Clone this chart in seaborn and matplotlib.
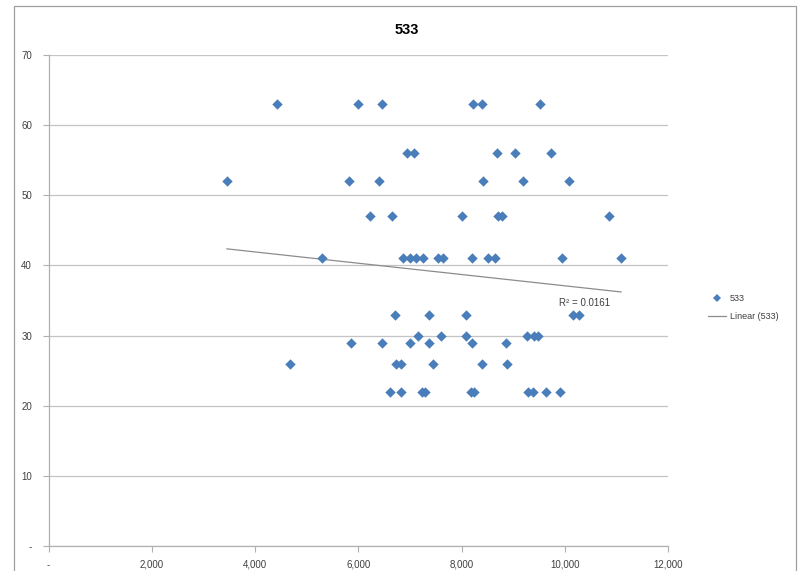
import numpy as np
import pandas as pd
import matplotlib
matplotlib.use("Agg")
import matplotlib.pyplot as plt
from matplotlib.lines import Line2D
from matplotlib.patches import Rectangle
from matplotlib.ticker import FuncFormatter
import seaborn as sns

# Observations grouped by their score level
score_levels = [63, 56, 52, 47, 41, 33, 30, 29, 26, 22]
x_at_63 = [4420, 5990, 6460, 8230, 8390, 9525]
x_at_56 = [6940, 7070, 8680, 9040, 9730]
x_at_52 = [3450, 5820, 6400, 8425, 9200, 10085]
x_at_47 = [6225, 6645, 8005, 8715, 8790, 10850]
x_at_41 = [5300, 6860, 7000, 7120, 7250, 7540, 7645, 8200, 8520, 8640, 9950, 11095]
x_at_33 = [6705, 7365, 8090, 10150, 10280]
x_at_30 = [7150, 7610, 8085, 9260, 9410, 9490]
x_at_29 = [5850, 6460, 7010, 7375, 8200, 8855]
x_at_26 = [4680, 6725, 6820, 7445, 8405, 8875]
x_at_22 = [6610, 6835, 7230, 7285, 8185, 8240, 9295, 9385, 9635, 9905]

series_name = "533"
r_squared_label = "R² = 0.0161"
x_ticks = [0, 2000, 4000, 6000, 8000, 10000, 12000]
y_ticks = [0, 10, 20, 30, 40, 50, 60, 70]

groups = [x_at_63, x_at_56, x_at_52, x_at_47, x_at_41,
          x_at_33, x_at_30, x_at_29, x_at_26, x_at_22]
rows = []
for level, xs in zip(score_levels, groups):
    for xv in xs:
        rows.append((xv, level))
df = pd.DataFrame(rows, columns=["x", "y"])

sns.set_theme(style="white")
plt.rcParams["font.family"] = ["Liberation Sans", "DejaVu Sans"]

fig = plt.figure(figsize=(8.0, 5.71), dpi=100)
ax = fig.add_axes([0.0608, 0.0438, 0.7742, 0.8599])

marker_color = "#4A7EBB"
grid_color = "#C4C4C4"
axis_color = "#B0B0B0"
trend_color = "#8C8C8C"

sns.scatterplot(data=df, x="x", y="y", ax=ax, marker="D", s=28,
                color=marker_color, edgecolor=marker_color, linewidth=0,
                zorder=3, legend=False)
sns.regplot(data=df, x="x", y="y", ax=ax, scatter=False, ci=None,
            truncate=True, line_kws=dict(color=trend_color, lw=0.9, zorder=2))

ax.set_xlim(0, 12000)
ax.set_ylim(0, 70)
ax.set_xticks(x_ticks)
ax.set_yticks(y_ticks)


def thousands(v, _pos):
    return "-" if v == 0 else f"{int(v):,}"


ax.xaxis.set_major_formatter(FuncFormatter(thousands))
ax.yaxis.set_major_formatter(FuncFormatter(lambda v, p: "-" if v == 0 else f"{int(v)}"))
ax.set_xlabel("")
ax.set_ylabel("")

ax.yaxis.grid(True, color=grid_color, lw=0.9)
ax.xaxis.grid(False)
ax.set_axisbelow(True)
for side in ["top", "right"]:
    ax.spines[side].set_visible(False)
for side in ["left", "bottom"]:
    ax.spines[side].set_color(axis_color)
    ax.spines[side].set_linewidth(0.9)

ax.tick_params(axis="both", which="major", direction="out", length=4,
               width=0.8, color=axis_color, labelsize=7, labelcolor="#404040",
               left=True, bottom=True)
ax.tick_params(axis="y", pad=8)
ax.tick_params(axis="x", pad=6)

ax.text(10390, 34.6, r_squared_label, ha="center", va="center",
        fontsize=7, color="#404040")

fig.text(407 / 800, 1 - 30 / 571, series_name, ha="center", va="center",
         fontsize=10.5, fontweight="bold", color="#000000")

handles = [
    Line2D([], [], marker="D", ls="none", color=marker_color, markersize=4,
           markeredgewidth=0),
    Line2D([], [], color=trend_color, lw=0.9),
]
fig.legend(handles, [series_name, f"Linear ({series_name})"],
           loc="center left", bbox_to_anchor=(0.875, 0.462), frameon=False,
           fontsize=6.5, handlelength=2.0, handletextpad=0.4,
           labelspacing=1.0, labelcolor="#404040")

fig.patches.append(Rectangle((14 / 800, -0.02), (796 - 14) / 800, 1 - 6 / 571 + 0.02,
                             transform=fig.transFigure, fill=False,
                             edgecolor="#A0A0A0", lw=0.9))

fig.savefig("out.png", dpi=100)
